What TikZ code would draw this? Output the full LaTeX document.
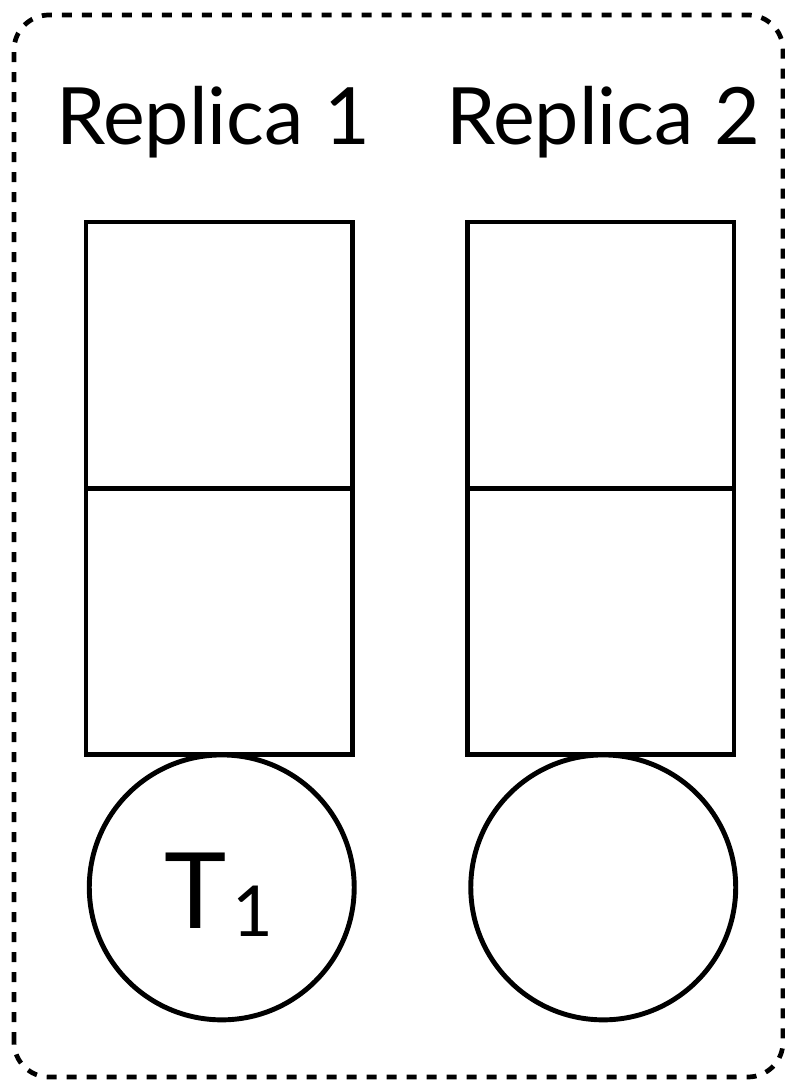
\documentclass[tikz,border=0pt]{standalone}
\usepackage{fontspec}
\setmainfont{Lato}
\usetikzlibrary{positioning}
\begin{document}
\begin{tikzpicture}[x=0.02cm,y=0.02cm,line width=2.8pt,
  cell/.style={draw,minimum size=5.33cm,inner sep=0pt,outer sep=0pt},
  slot/.style={draw,circle,minimum size=5.3cm,inner sep=0pt,outer sep=0pt},
  title/.style={font=\fontsize{45}{50}\selectfont,anchor=base}]
  \useasboundingbox (0,0) rectangle (785,1080);
  % dashed frame round both replicas
  \draw[line width=2.7pt,dash pattern=on 0.2cm off 0.2cm,rounded corners=0.7cm]
    (14,3) rectangle (783,1065);
  \node[title] (rep1) at (213,935) {Replica 1};
  \node[title] (rep2) at (603,935) {Replica 2};
  \foreach \r/\x in {1/219.25,2/600.75} {
    \node[cell] (top\r) at (\x,724.75) {};
    \node[cell,below=0pt of top\r] (bot\r) {};
    \node[slot,below=0pt of bot\r,xshift=2.5*0.02cm] (slot\r) {};
  }
  \node[anchor=base,font=\fontsize{60}{60}\selectfont] (t1) at (219,152)
    {T\hspace{0.05em}\raisebox{-5pt}{\fontsize{40}{40}\selectfont 1}};
\end{tikzpicture}
\end{document}
